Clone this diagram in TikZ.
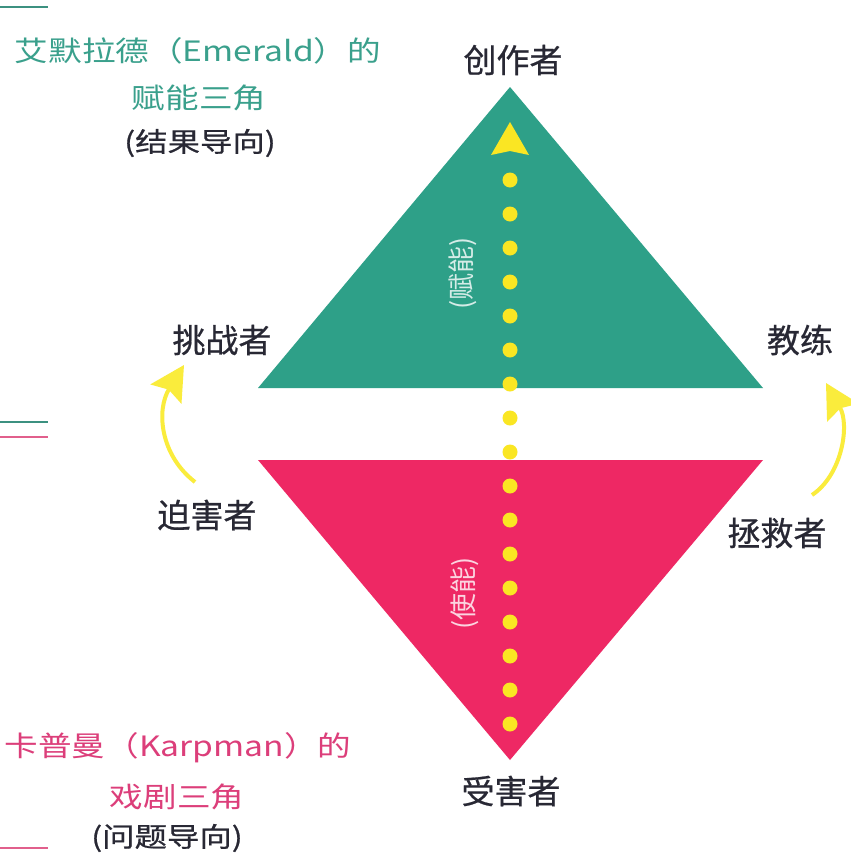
\documentclass[tikz,border=0pt]{standalone}
\usepackage{fontspec}
\setmainfont{Noto Sans CJK SC}
\newfontfamily\rolefont{Noto Sans CJK SC}[FakeBold=0.6]
\usetikzlibrary{arrows.meta}
\definecolor{tealfill}{RGB}{46,160,136}
\definecolor{pinkfill}{RGB}{238,40,100}
\definecolor{dotyellow}{RGB}{250,230,35}
\definecolor{arrowyellow}{RGB}{250,236,60}
\definecolor{tealtext}{RGB}{58,160,140}
\definecolor{pinktext}{RGB}{220,62,122}
\definecolor{darktext}{RGB}{40,40,52}
\definecolor{tealline}{RGB}{60,145,128}
\definecolor{pinkline}{RGB}{225,95,140}
\tikzset{
  rolelbl/.style={font=\rolefont\fontsize{33}{36}\selectfont, text=darktext, inner sep=0pt},
  titlelbl/.style={font=\fontsize{28}{32}\selectfont, inner sep=0pt, xscale=1.2},
  sublbl/.style={font=\rolefont\fontsize{27}{30}\selectfont, text=darktext, inner sep=0pt, xscale=1.2},
  vertlbl/.style={font=\fontsize{27}{29}\selectfont, inner sep=0pt, rotate=90},
  edgeline/.style={line width=2.5pt},
  curvearrow/.style={draw=arrowyellow, line width=4pt, -{Stealth[length=34pt,width=36pt,inset=5pt]}},
  yellowdot/.style={fill=dotyellow}
}
\begin{document}
\begin{tikzpicture}[x=1pt,y=-1pt]
\useasboundingbox (0,0) rectangle (851,857);
\fill[white] (0,0) rectangle (851,857);
% left edge lines
\draw[edgeline, tealline] (0,7) -- (48,7);
\draw[edgeline, tealline] (0,422) -- (48,422);
\draw[edgeline, pinkline] (0,437) -- (48,437);
\draw[edgeline, pinkline] (0,848) -- (48,848);
% triangles
\fill[tealfill] (258,388) -- (510,87) -- (763,388) -- cycle;
\fill[pinkfill] (258,460) -- (763,460) -- (510,760) -- cycle;
% role labels
\node[rolelbl] (creator) at (513,60) {创作者};
\node[rolelbl] (challenger) at (222,340) {挑战者};
\node[rolelbl] (coach) at (800,340) {教练};
\node[rolelbl] (persecutor) at (207,515) {迫害者};
\node[rolelbl] (rescuer) at (777,533) {拯救者};
\node[rolelbl] (victim) at (511,791) {受害者};
% titles
\node[titlelbl, text=tealtext] (emt1) at (198,51) {艾默拉德（Emerald）的};
\node[titlelbl, text=tealtext] (emt2) at (199,98) {赋能三角};
\node[sublbl] (emt3) at (200,143) {(结果导向)};
\node[titlelbl, text=pinktext] (kpt1) at (178,748) {卡普曼（Karpman）的};
\node[titlelbl, text=pinktext] (kpt2) at (177,797) {戏剧三角};
\node[sublbl] (kpt3) at (167,838) {(问题导向)};
% vertical labels
\node[vertlbl, text=white, opacity=0.8] (empl) at (463,273) {(赋能)};
\node[vertlbl, text=white, opacity=0.8] (enabl) at (465,593) {(使能)};
% dotted vertical arrow
\foreach \i in {0,...,16} {
  \fill[yellowdot] (510,{724-34*\i}) circle (7.5);
}
\fill[dotyellow] (510,122) -- (529,155) -- (510,151) -- (491,155) -- cycle;
% curved arrows
\coordinate (ptail) at (195,482);
\coordinate (ptip) at (184,365);
\coordinate (rtail) at (812,495);
\coordinate (rtip) at (826,383);
\draw[curvearrow] (ptail) .. controls (160,455) and (156,410) .. (ptip);
\draw[curvearrow] (rtail) .. controls (842,475) and (850,425) .. (rtip);
\end{tikzpicture}
\end{document}
